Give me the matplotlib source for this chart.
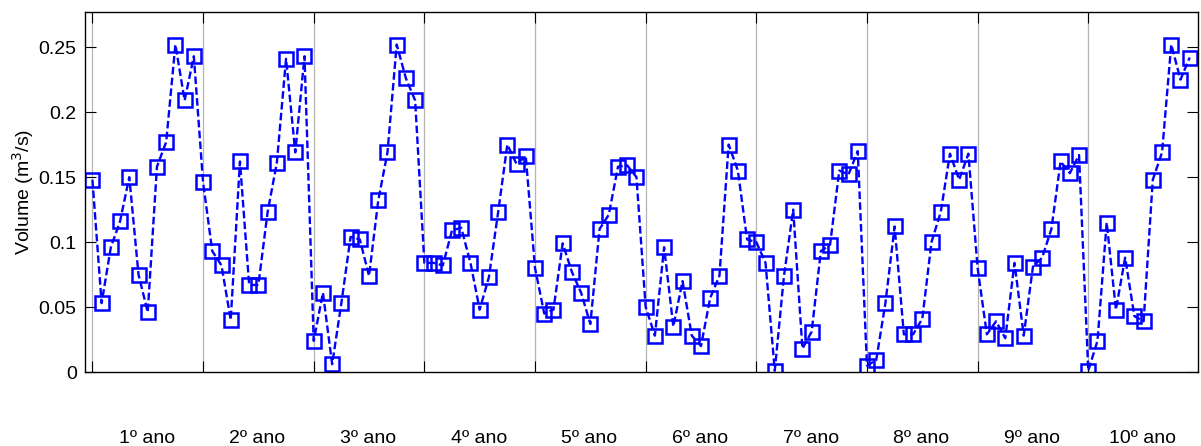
import numpy as np
import matplotlib
matplotlib.use('Agg')
import matplotlib.pyplot as plt

plt.rcParams['font.family'] = ['Liberation Sans', 'DejaVu Sans']

# monthly volumes, one list per year (12 months each)
ano1 = [0.148, 0.053, 0.096, 0.116, 0.150, 0.075, 0.046, 0.158, 0.177, 0.252, 0.209, 0.243]
ano2 = [0.146, 0.093, 0.082, 0.040, 0.162, 0.067, 0.067, 0.123, 0.161, 0.241, 0.169, 0.243]
ano3 = [0.024, 0.061, 0.006, 0.053, 0.104, 0.102, 0.074, 0.132, 0.169, 0.252, 0.226, 0.209]
ano4 = [0.084, 0.084, 0.082, 0.109, 0.111, 0.084, 0.048, 0.073, 0.123, 0.175, 0.160, 0.166]
ano5 = [0.080, 0.045, 0.048, 0.099, 0.077, 0.061, 0.037, 0.110, 0.121, 0.158, 0.159, 0.150]
ano6 = [0.050, 0.028, 0.096, 0.035, 0.070, 0.028, 0.020, 0.057, 0.074, 0.175, 0.155, 0.102]
ano7 = [0.100, 0.084, 0.001, 0.074, 0.125, 0.018, 0.031, 0.093, 0.098, 0.155, 0.152, 0.170]
ano8 = [0.005, 0.009, 0.053, 0.112, 0.029, 0.029, 0.041, 0.100, 0.123, 0.168, 0.148, 0.168]
ano9 = [0.080, 0.029, 0.039, 0.026, 0.084, 0.028, 0.081, 0.088, 0.110, 0.162, 0.153, 0.167]
ano10 = [0.001, 0.024, 0.115, 0.048, 0.088, 0.043, 0.039, 0.148, 0.169, 0.252, 0.225, 0.242]

anos = [ano1, ano2, ano3, ano4, ano5, ano6, ano7, ano8, ano9, ano10]
rotulos = ['%dº ano' % (i + 1) for i in range(len(anos))]

vol = np.concatenate(anos)
x = np.arange(len(vol))

fig = plt.figure(figsize=(12.01, 4.46), dpi=100)
ax = fig.add_axes([0.0708, 0.1659, 0.9267, 0.8071])

inicio = np.arange(0, len(vol), 12)
for xi in inicio:
    ax.axvline(xi, color='#b4b4b4', lw=0.9, zorder=0)

ax.plot(x, vol, color='#0000ff', lw=1.7, dashes=(3.2, 1.4),
        marker='s', ms=9.5, mfc='none', mec='#0000ff', mew=1.8)

ax.set_xlim(-0.8, 119.9)
ax.set_ylim(0, 0.277)
ax.set_yticks([0, 0.05, 0.1, 0.15, 0.2, 0.25])
ax.set_yticklabels(['0', '0.05', '0.1', '0.15', '0.2', '0.25'])
ax.set_xticks(inicio)
ax.set_xticklabels([])
ax.tick_params(direction='in', length=8, width=0.8, top=True, right=True,
               labelsize=14, pad=6)

for i, r in enumerate(rotulos):
    ax.text(inicio[i] + 5.9, -0.185, r, transform=ax.get_xaxis_transform(),
            ha='center', va='center', fontsize=14)

ax.set_ylabel('Volume (m$^3$/s)', fontsize=14, labelpad=2)
for s in ax.spines.values():
    s.set_linewidth(1.0)

fig.savefig('out.png', dpi=100)
